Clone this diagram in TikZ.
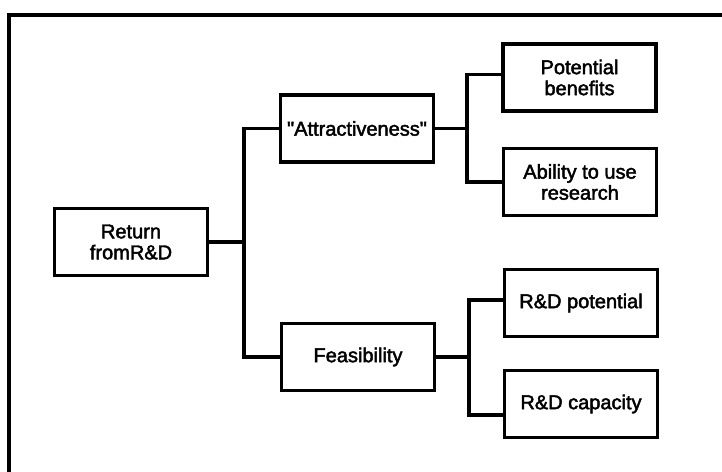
\documentclass[tikz,border=0pt]{standalone}
\usepackage{fontspec}
\setmainfont{Liberation Sans}[FakeBold=2.2]
\begin{document}
\begin{tikzpicture}[x=1pt,y=-1pt,
  box/.style={draw, line width=3.2pt, rectangle, minimum width=153pt, minimum height=67pt,
    align=center, inner sep=1pt, font=\fontsize{20}{21}\selectfont},
  link/.style={line width=3.2pt}]
\useasboundingbox (0,0) rectangle (722,471);
\draw[line width=3.6pt] (9,475) -- (9,15) -- (726,15);
\node[box] (ret) at (131,242) {Return\\fromR\&D};
\node[box] (att) at (357,128.5) {\textquotedbl Attractiveness\textquotedbl};
\node[box] (fea) at (358,357) {Feasibility};
\node[box] (pb) at (579.5,77.5) {Potential\\benefits};
\node[box] (ab) at (580,182) {Ability to use\\research};
\node[box] (rdp) at (581,303) {R\&D potential};
\node[box] (rdc) at (581,404) {R\&D capacity};
\coordinate (j1) at (244,242);
\coordinate (j2) at (467,128.5);
\coordinate (j3) at (469,357);
\draw[link] (ret.east) -- (j1) |- (att.west);
\draw[link] (j1) |- (fea.west);
\draw[link] (att.east) -- (j2) |- ([yshift=3pt]pb.west);
\draw[link] (j2) |- (ab.west);
\draw[link] (fea.east) -- (j3) |- ([yshift=3pt]rdp.west);
\draw[link] (j3) |- ([yshift=-11pt]rdc.west);
\end{tikzpicture}
\end{document}
